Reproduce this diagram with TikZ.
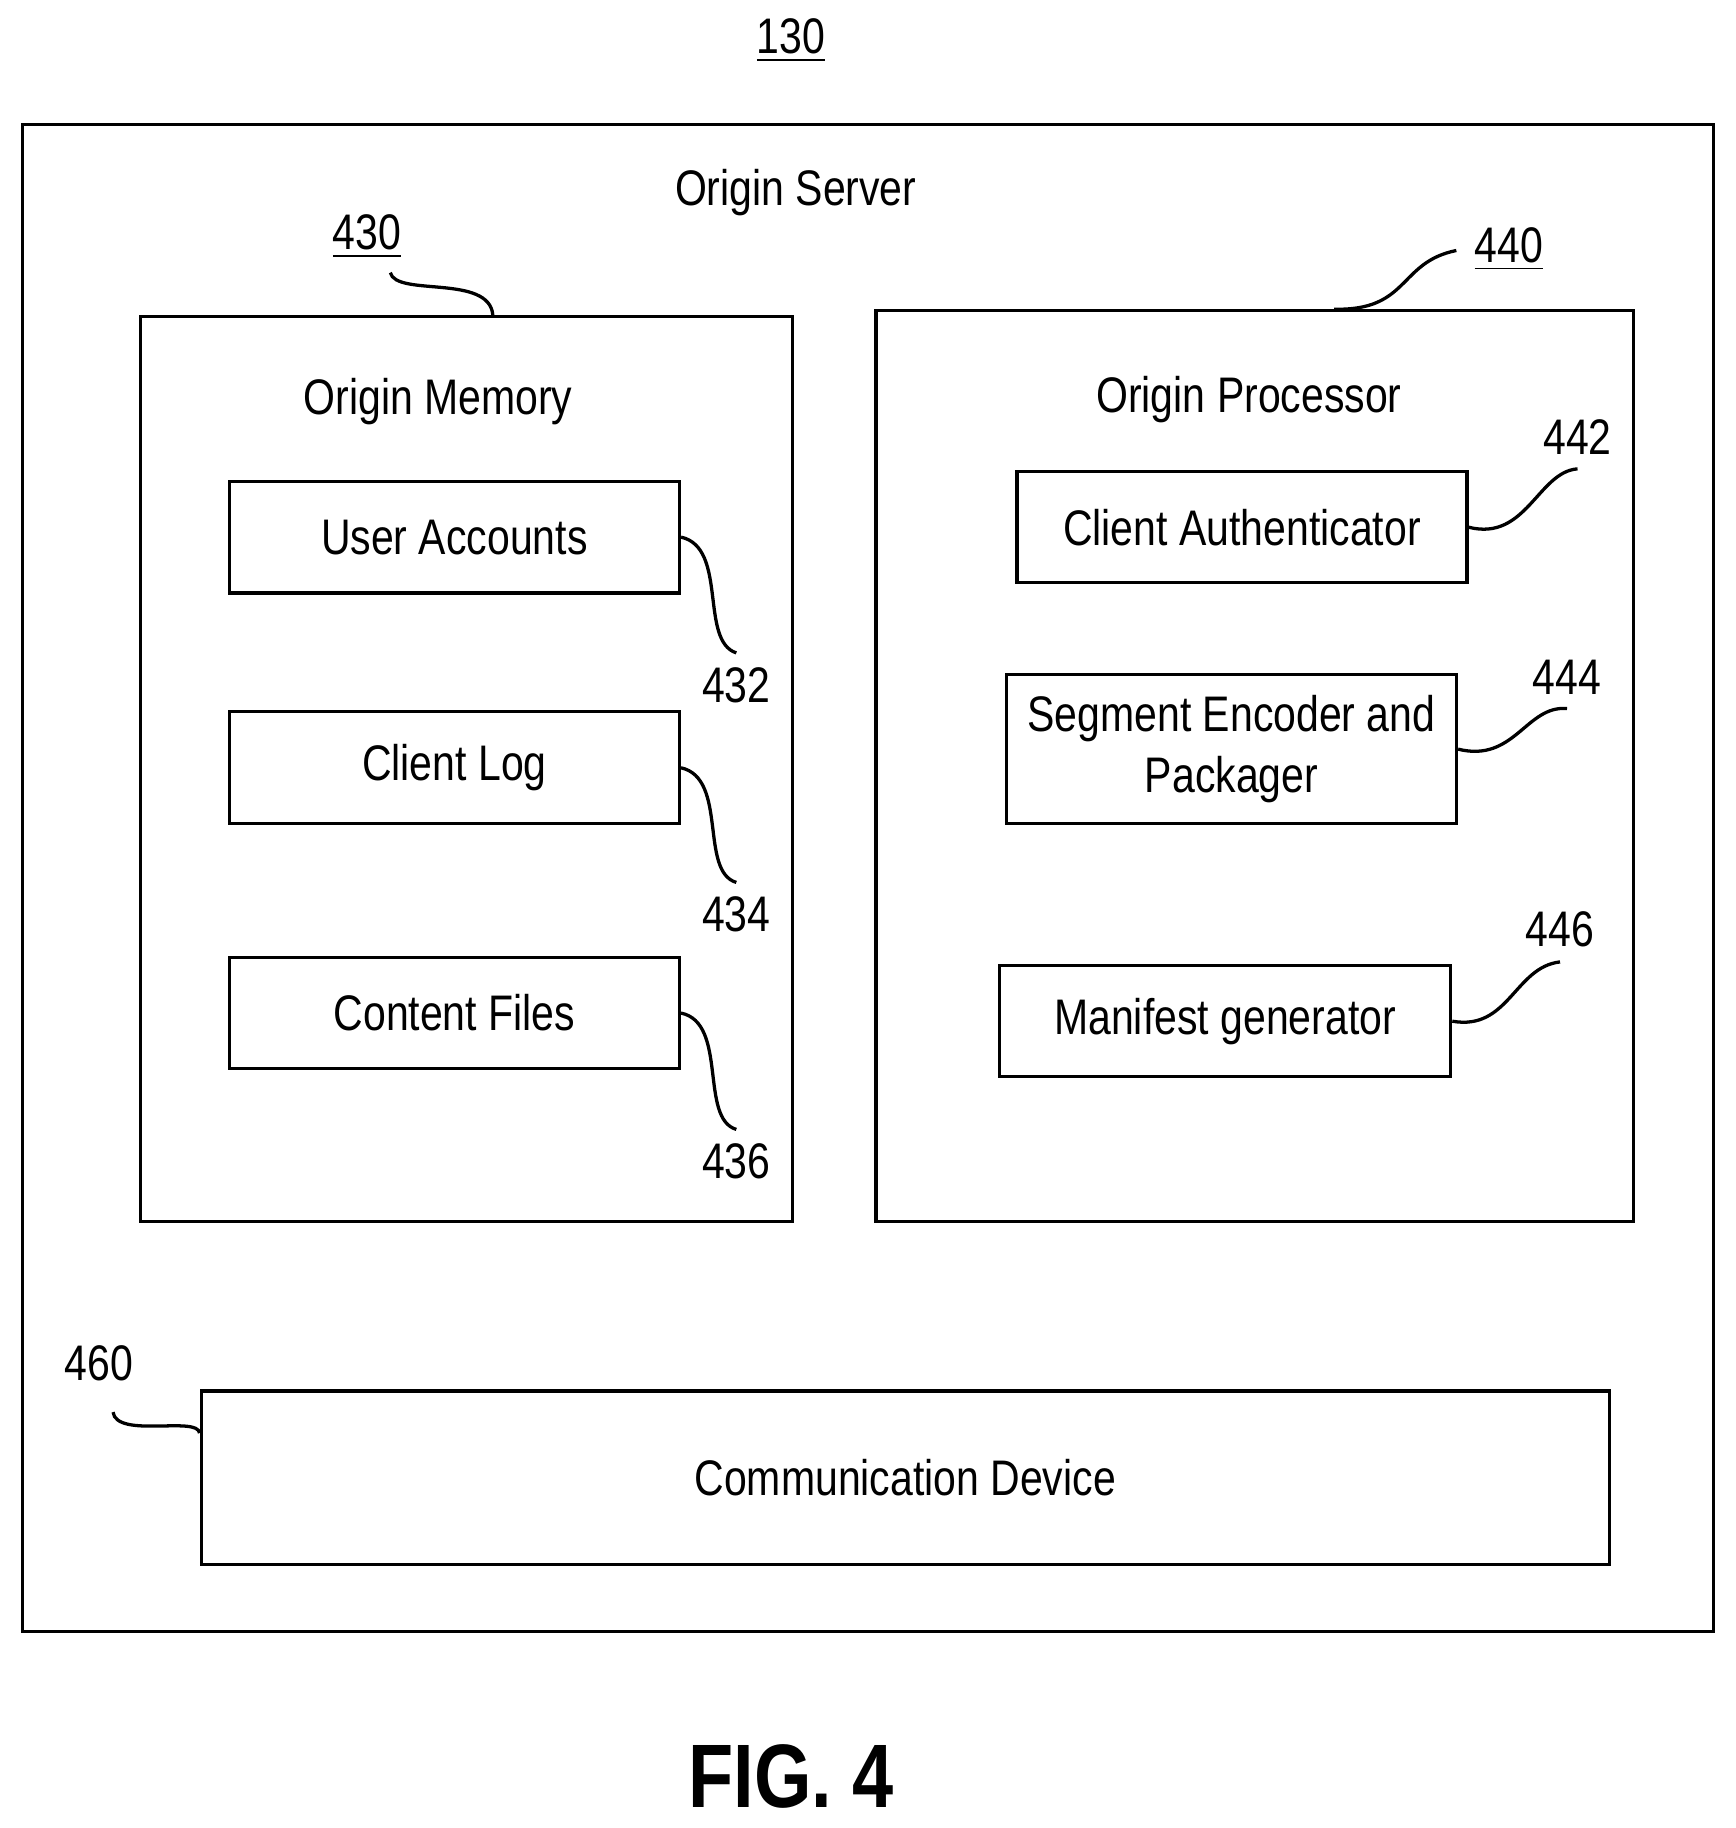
\documentclass[tikz,border=0pt]{standalone}
\usepackage{fontspec}
\setmainfont{Liberation Sans}[FakeStretch=0.82]
\begin{document}
\begin{tikzpicture}[x=0.01cm,y=-0.01cm]
\tikzset{blok/.style={draw, line width=0.8pt, inner sep=0pt, align=center, font=\fontsize{12.2}{15}\selectfont},
 lbl/.style={font=\fontsize{12.2}{15}\selectfont},
 leader/.style={line width=0.8pt}}
\useasboundingbox (0,0) rectangle (1490,1569);
\node[blok, minimum width=14.5cm, minimum height=12.93cm] (Srv) at (745,753.5) {};
\node[blok, minimum width=5.59cm, minimum height=7.76cm] (Mem) at (400.5,660) {};
\node[blok, minimum width=6.5cm, minimum height=7.81cm] (Proc) at (1077,657.5) {};
\node[blok, minimum width=3.86cm, minimum height=0.96cm] (UA) at (390,461) {User Accounts};
\node[blok, minimum width=3.86cm, minimum height=0.96cm] (CL) at (390,659) {Client Log};
\node[blok, minimum width=3.86cm, minimum height=0.95cm] (CF) at (390,869.5) {Content Files};
\node[blok, minimum width=3.86cm, minimum height=0.95cm] (CA) at (1066,452.5) {Client Authenticator};
\node[blok, minimum width=3.86cm, minimum height=1.28cm] (SE) at (1057,643) {Segment Encoder and\\Packager};
\node[blok, minimum width=3.87cm, minimum height=0.95cm] (MG) at (1051.5,876.5) {Manifest generator};
\node[blok, minimum width=12.08cm, minimum height=1.49cm] (CD) at (777,1268.5) {Communication Device};
\node[lbl] (t130) at (679,35) {\underline{130}};
\node[lbl] (tSrv) at (683,165) {Origin Server};
\node[lbl] (tMem) at (376,345) {Origin Memory};
\node[lbl] (tProc) at (1072,343) {Origin Processor};
\node[lbl] (t430) at (315,203) {\underline{430}};
\node[lbl] (t440) at (1295,214) {\underline{440}};
\node[lbl] (t432) at (632,588) {432};
\node[lbl] (t434) at (632,785) {434};
\node[lbl] (t436) at (632,997) {436};
\node[lbl] (t442) at (1354,375) {442};
\node[lbl] (t444) at (1345,581) {444};
\node[lbl] (t446) at (1339,798) {446};
\node[lbl] (t460) at (85,1170) {460};
\node[font=\fontsize{22}{26}\bfseries\selectfont] (fig) at (679,1525) {FIG. 4};
% leaders
\coordinate (e430) at (335,234);
\coordinate (e440) at (1250,215);
\coordinate (e460) at (97,1212);
\draw[leader] (e430) .. controls (340,255) and (420,235) .. (Mem.north -| 423,0);
\draw[leader] (e440) .. controls (1200,225) and (1210,267) .. (Proc.north -| 1145,0);
\draw[leader] (e460) .. controls (100,1235) and (170,1215) .. (CD.west |- 0,1230);
\draw[leader] (UA.east) .. controls (625,470) and (600,550) .. (t432.north);
\draw[leader] (CL.east) .. controls (625,668) and (600,748) .. (t434.north);
\draw[leader] (CF.east) .. controls (625,878) and (600,960) .. (t436.north);
\draw[leader] (CA.east) .. controls (1310,465) and (1320,405) .. (t442.south);
\draw[leader] (SE.east) .. controls (1300,655) and (1310,605) .. (t444.south);
\draw[leader] (MG.east) .. controls (1295,885) and (1300,830) .. (t446.south);
\end{tikzpicture}
\end{document}
